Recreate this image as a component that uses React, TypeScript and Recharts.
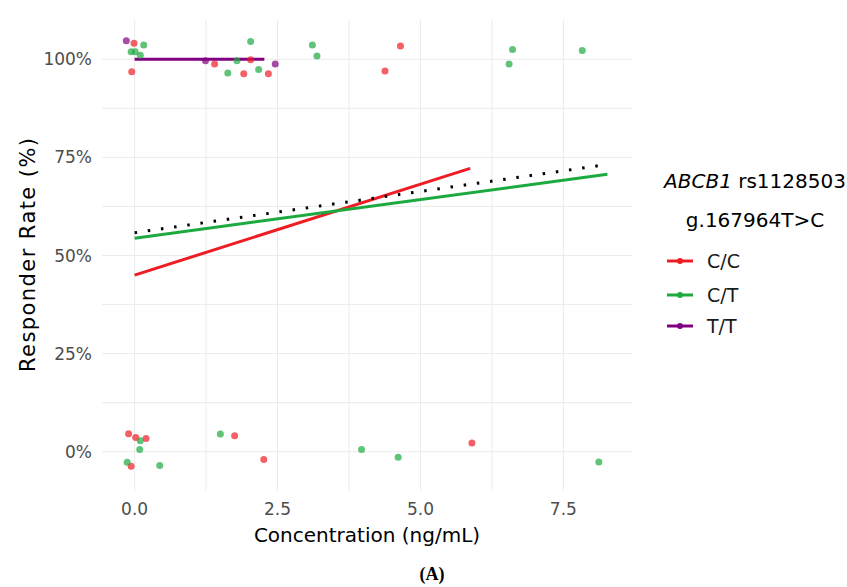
import React from "react";
import {
  ComposedChart,
  Scatter,
  Line,
  XAxis,
  YAxis,
  ReferenceLine,
} from "recharts";

// genotype groups (jittered points, responder 0/100%)
const genotypes = ["C/C", "C/T", "T/T"];
const genoColors: Record<string, string> = {
  "C/C": "#EE1C24",
  "C/T": "#1CAA40",
  "T/T": "#800080",
};

const ccPoints = [
  { x: -0.01, y: 104.1 }, { x: -0.05, y: 96.8 }, { x: 1.4, y: 98.8 }, { x: 1.91, y: 96.3 },
  { x: 2.03, y: 99.9 }, { x: 2.34, y: 96.3 }, { x: 4.65, y: 103.4 }, { x: 4.38, y: 97.0 },
  { x: -0.105, y: 4.6 }, { x: 0.02, y: 3.6 }, { x: 0.2, y: 3.4 }, { x: -0.06, y: -3.7 },
  { x: 1.75, y: 4.1 }, { x: 2.26, y: -2.0 }, { x: 5.9, y: 2.2 },
];
const ctPoints = [
  { x: 0.16, y: 103.6 }, { x: -0.06, y: 101.9 }, { x: 0.01, y: 101.9 }, { x: 0.1, y: 101.0 },
  { x: 1.63, y: 96.5 }, { x: 1.79, y: 99.6 }, { x: 2.03, y: 104.5 }, { x: 2.17, y: 97.4 },
  { x: 3.11, y: 103.6 }, { x: 3.19, y: 100.8 }, { x: 6.61, y: 102.5 }, { x: 6.55, y: 98.8 },
  { x: 7.83, y: 102.2 },
  { x: 0.1, y: 2.8 }, { x: 0.09, y: 0.6 }, { x: -0.13, y: -2.7 }, { x: 0.44, y: -3.5 },
  { x: 1.5, y: 4.5 }, { x: 3.97, y: 0.6 }, { x: 4.61, y: -1.4 }, { x: 8.12, y: -2.6 },
];
const ttPoints = [
  { x: -0.145, y: 104.7 }, { x: 1.24, y: 99.6 }, { x: 2.46, y: 98.8 },
];

// fitted lines (end points)
const ccFit = [{ x: 0, y: 45.0 }, { x: 5.87, y: 72.2 }];
const ctFit = [{ x: 0, y: 54.4 }, { x: 8.27, y: 70.7 }];
const ttFit = [{ x: 0, y: 100 }, { x: 2.27, y: 100 }];
const allFit = [{ x: 0, y: 55.8 }, { x: 8.27, y: 73.2 }];

const xMajor = [0, 2.5, 5, 7.5];
const xMinor = [1.25, 3.75, 6.25];
const yMajor = [0, 25, 50, 75, 100];
const yMinor = [12.5, 37.5, 62.5, 87.5];

const FONT = "'DejaVu Sans', sans-serif";
const GRID = "#EBEBEB";

const dotShape = (color: string) => (props: any) => (
  <circle cx={props.cx} cy={props.cy} r={3.5} fill={color} fillOpacity={0.7} />
);

export default function App() {
  const series = [
    { key: "C/C", pts: ccPoints, fit: ccFit },
    { key: "C/T", pts: ctPoints, fit: ctFit },
    { key: "T/T", pts: ttPoints, fit: ttFit },
  ];

  return (
    <div style={{ position: "absolute", left: 0, top: 0, width: 847, height: 587, background: "#fff", fontFamily: FONT }}>
      <ComposedChart
        width={847}
        height={587}
        margin={{ top: 20, right: 215, bottom: 66, left: 0 }}
      >
        {yMinor.concat(yMajor).map((v) => (
          <ReferenceLine key={"gy" + v} y={v} stroke={GRID} strokeWidth={1} ifOverflow="hidden" />
        ))}
        {xMinor.concat(xMajor).map((v) => (
          <ReferenceLine key={"gx" + v} x={v} stroke={GRID} strokeWidth={1} ifOverflow="hidden" />
        ))}
        <XAxis
          type="number"
          dataKey="x"
          height={30}
          domain={[-0.57, 8.7]}
          ticks={xMajor}
          interval={0}
          allowDataOverflow
          axisLine={false}
          tickLine={false}
          tickMargin={6}
          tickFormatter={(v: number) => v.toFixed(1)}
          tick={{ fill: "#4D4D4D", fontSize: 17, fontFamily: FONT }}
        />
        <YAxis
          type="number"
          dataKey="y"
          width={102}
          domain={[-10, 110]}
          ticks={yMajor}
          interval={0}
          allowDataOverflow
          axisLine={false}
          tickLine={false}
          tickMargin={4}
          tickFormatter={(v: number) => `${v}%`}
          tick={{ fill: "#4D4D4D", fontSize: 17, fontFamily: FONT }}
        />
        {series.map((s) => (
          <Scatter
            key={"p" + s.key}
            data={s.pts}
            shape={dotShape(genoColors[s.key])}
            isAnimationActive={false}
          />
        ))}
        {series.map((s) => (
          <Line
            key={"l" + s.key}
            data={s.fit}
            dataKey="y"
            type="linear"
            stroke={genoColors[s.key]}
            strokeWidth={3}
            dot={false}
            activeDot={false}
            isAnimationActive={false}
          />
        ))}
        <Line
          data={allFit}
          dataKey="y"
          type="linear"
          stroke="#000"
          strokeWidth={3}
          strokeDasharray="2.5 10.8"
          dot={false}
          activeDot={false}
          isAnimationActive={false}
        />
      </ComposedChart>

      <svg width={847} height={587} style={{ position: "absolute", left: 0, top: 0, pointerEvents: "none" }}>
        <text
          x={28}
          y={255}
          transform="rotate(-90 28 255)"
          textAnchor="middle"
          dominantBaseline="central"
          fontSize={21}
          textLength={234}
          lengthAdjust="spacing"
          fontFamily={FONT}
          fill="#000"
        >
          Responder Rate (%)
        </text>
        <text x={367} y={542} textAnchor="middle" fontSize={20} fontFamily={FONT} fill="#000">
          Concentration (ng/mL)
        </text>
        <text x={432} y={580} textAnchor="middle" fontSize={18} fontWeight="bold" fontFamily="'Liberation Serif', serif" fill="#000">
          (A)
        </text>

        {/* legend */}
        <text x={755} y={188} textAnchor="middle" fontSize={20} fontFamily={FONT} fill="#000">
          <tspan fontStyle="italic">ABCB1</tspan> rs1128503
        </text>
        <text x={755} y={227} textAnchor="middle" fontSize={20} fontFamily={FONT} fill="#000">
          g.167964T&gt;C
        </text>
        {genotypes.map((g, i) => {
          const cy = [261, 295, 326][i];
          return (
            <g key={g}>
              <line x1={667} x2={693} y1={cy} y2={cy} stroke={genoColors[g]} strokeWidth={3} />
              <circle cx={680} cy={cy} r={3} fill={genoColors[g]} />
              <text x={707} y={cy + 7} fontSize={19} fontFamily={FONT} fill="#1A1A1A">
                {g}
              </text>
            </g>
          );
        })}
      </svg>
    </div>
  );
}
